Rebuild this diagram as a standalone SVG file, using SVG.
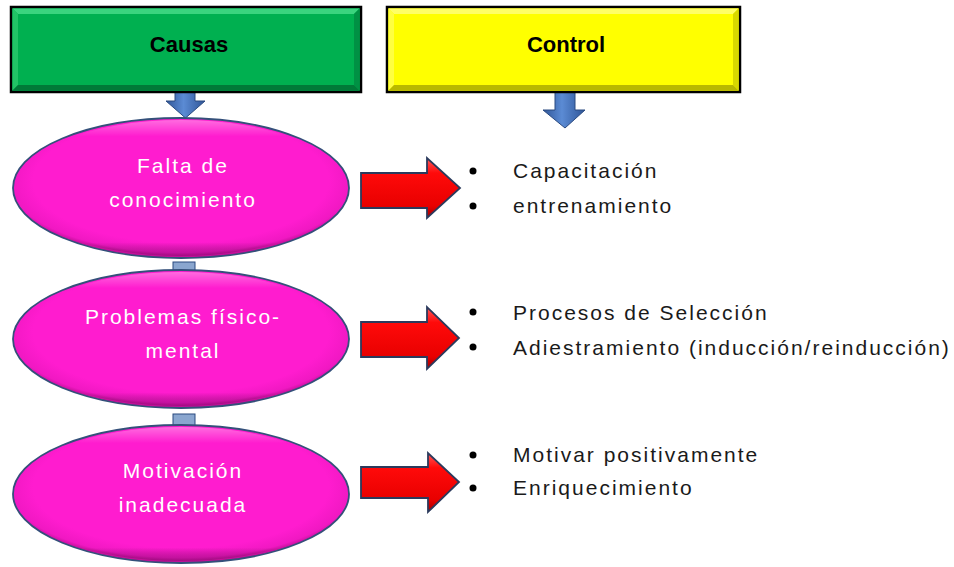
<svg xmlns="http://www.w3.org/2000/svg" width="954" height="567" viewBox="0 0 954 567">
<defs>
<radialGradient id="mag" cx="0.5" cy="0.45" r="0.55">
<stop offset="0" stop-color="#ff1ccf"/>
<stop offset="0.8" stop-color="#ff1ccf"/>
<stop offset="0.93" stop-color="#f018c2"/>
<stop offset="1" stop-color="#b00c88"/>
</radialGradient>
<linearGradient id="magHi" x1="0" y1="0" x2="0" y2="1">
<stop offset="0" stop-color="#ffffff" stop-opacity="0.35"/>
<stop offset="0.12" stop-color="#ffffff" stop-opacity="0"/>
<stop offset="0.9" stop-color="#000000" stop-opacity="0"/>
<stop offset="1" stop-color="#600050" stop-opacity="0.35"/>
</linearGradient>
<linearGradient id="red" x1="0" y1="0" x2="0" y2="1">
<stop offset="0" stop-color="#ff5a5a"/>
<stop offset="0.25" stop-color="#ff0a0a"/>
<stop offset="0.8" stop-color="#e80000"/>
<stop offset="1" stop-color="#a00000"/>
</linearGradient>
<linearGradient id="blue" x1="0" y1="0" x2="1" y2="0">
<stop offset="0" stop-color="#2f5597"/>
<stop offset="0.45" stop-color="#5b8bd4"/>
<stop offset="1" stop-color="#2f5597"/>
</linearGradient>
<style>
.box{stroke:#000;stroke-width:2.5}
.head{font-family:"Liberation Sans",Arial,sans-serif;font-weight:bold;font-size:22px;fill:#000;text-anchor:middle}
.ell{fill:url(#mag);stroke:#34507a;stroke-width:1.8}
.ellhi{fill:url(#magHi);stroke:none}
.etxt{font-family:"Liberation Sans",Arial,sans-serif;font-size:21px;fill:#fff;text-anchor:middle;letter-spacing:2px}
.btxt{font-family:"Liberation Sans",Arial,sans-serif;font-size:21px;fill:#1a1a1a;letter-spacing:2px}
.bul{fill:#000}
.rarr{fill:url(#red);stroke:#2b3a5c;stroke-width:1.8;stroke-linejoin:miter}
.barr{fill:url(#blue);stroke:#2a4a80;stroke-width:1}
.bstub{fill:#8aa6cf;stroke:#2a4a80;stroke-width:1}
</style>
</defs>
<rect width="954" height="567" fill="#fff"/>
<g id="connectors">
<path class="barr" d="M175,92 H195 V101 H205 L185.5,118 L166,101 H175 Z"/>
<path class="barr" d="M555,92 H575 V110 H585 L565,128 L543,110 H555 Z"/>
<rect class="bstub" x="173" y="262" width="22" height="10"/>
<rect class="bstub" x="173" y="414" width="22" height="12"/>
<path class="rarr" d="M361,173 H427 V158 L460,188 L427,218 V208 H361 Z"/>
<path class="rarr" d="M361,322 H427 V307 L459,338 L427,369 V357 H361 Z"/>
<path class="rarr" d="M361,467 H428 V453 L459,482 L428,512 V498 H361 Z"/>
</g>
<g id="causas">
<rect class="box" x="11" y="7" width="350" height="85" fill="#00b050"/>
<polygon points="12.5,8.5 359.5,8.5 354,14 18,14" fill="#3ad47e"/>
<polygon points="12.5,8.5 18,14 18,85 12.5,90.5" fill="#22c466"/>
<polygon points="359.5,8.5 359.5,90.5 354,85 354,14" fill="#009144"/>
<polygon points="12.5,90.5 18,85 354,85 359.5,90.5" fill="#007a38"/>
<text class="head" x="189" y="52">Causas</text>
</g>
<g id="control">
<rect class="box" x="387" y="7" width="353" height="85" fill="#ffff00"/>
<polygon points="388.5,8.5 738.5,8.5 733,14 394,14" fill="#ffff66"/>
<polygon points="388.5,8.5 394,14 394,85 388.5,90.5" fill="#ffff40"/>
<polygon points="738.5,8.5 738.5,90.5 733,85 733,14" fill="#d8d800"/>
<polygon points="388.5,90.5 394,85 733,85 738.5,90.5" fill="#b8b800"/>
<text class="head" x="566" y="52">Control</text>
</g>
<g id="falta">
<ellipse class="ell" cx="181" cy="188" rx="168" ry="70"/>
<ellipse class="ellhi" cx="181" cy="188" rx="166" ry="68"/>
<text class="etxt" x="183" y="173">Falta de</text>
<text class="etxt" x="183" y="207">conocimiento</text>
</g>
<g id="problemas">
<ellipse class="ell" cx="181" cy="339" rx="168" ry="69"/>
<ellipse class="ellhi" cx="181" cy="339" rx="166" ry="67"/>
<text class="etxt" x="183" y="324">Problemas físico-</text>
<text class="etxt" x="183" y="358">mental</text>
</g>
<g id="motivacion">
<ellipse class="ell" cx="181" cy="494" rx="168" ry="69"/>
<ellipse class="ellhi" cx="181" cy="494" rx="166" ry="67"/>
<text class="etxt" x="183" y="478">Motivación</text>
<text class="etxt" x="183" y="512">inadecuada</text>
</g>
<g id="control1">
<circle class="bul" cx="473" cy="171" r="3.5"/>
<circle class="bul" cx="473" cy="206" r="3.5"/>
<text class="btxt" x="513" y="178">Capacitación</text>
<text class="btxt" x="513" y="213">entrenamiento</text>
</g>
<g id="control2">
<circle class="bul" cx="473" cy="312" r="3.5"/>
<circle class="bul" cx="473" cy="347" r="3.5"/>
<text class="btxt" x="513" y="320">Procesos de Selección</text>
<text class="btxt" x="513" y="355">Adiestramiento (inducción/reinducción)</text>
</g>
<g id="control3">
<circle class="bul" cx="473" cy="455" r="3.5"/>
<circle class="bul" cx="473" cy="488" r="3.5"/>
<text class="btxt" x="513" y="462">Motivar positivamente</text>
<text class="btxt" x="513" y="495">Enriquecimiento</text>
</g>
</svg>
